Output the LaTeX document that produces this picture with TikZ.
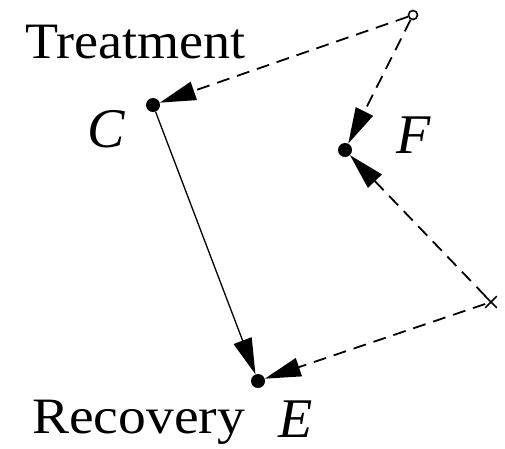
\documentclass[tikz,border=0pt]{standalone}
\usepackage{fontspec}
\setmainfont{Liberation Serif}
\usetikzlibrary{arrows.meta,shapes.misc}
\begin{document}
\begin{tikzpicture}[x=1pt,y=-1pt,
  dot/.style={circle,fill=black,inner sep=0pt,minimum size=14pt},
  opendot/.style={circle,draw=black,line width=1.6pt,inner sep=0pt,minimum size=9pt},
  crossmark/.style={cross out,draw=black,line width=1.6pt,inner sep=0pt,minimum size=10pt},
  dashline/.style={line width=1.8pt,dash pattern=on 13pt off 8pt},
  bigtip/.style={-{Triangle[length=36pt,width=19pt]}},
  lab/.style={font=\fontsize{51}{60}\selectfont,inner sep=0pt},
  vlab/.style={font=\fontsize{56}{66}\selectfont\itshape,inner sep=0pt,anchor=base}
]
\useasboundingbox (0,0) rectangle (505,448);
\node[dot] (C) at (153,105) {};
\node[dot] (F) at (345,150) {};
\node[dot] (E) at (258,381) {};
\node[opendot] (S) at (413,15) {};
\node[crossmark] (X) at (491,302) {};
\node[lab,anchor=base west] (tT) at (25,58) {\scalebox{1.06}[1]{Treatment}};
\node[vlab] (tC) at (106,147) {C};
\node[vlab] (tF) at (414,153) {F};
\node[lab,anchor=base west] (tR) at (32,433) {\scalebox{1.09}[1]{Recovery}};
\node[vlab] (tE) at (296,437) {E};
\draw[dashline,bigtip] (S) -- (C);
\draw[dashline,bigtip] (S) -- (F);
\draw[dashline,bigtip] (X) -- (F);
\draw[dashline,bigtip] (X) -- (E);
\draw[line width=1.3pt,bigtip] (C) -- (E);
\end{tikzpicture}
\end{document}
